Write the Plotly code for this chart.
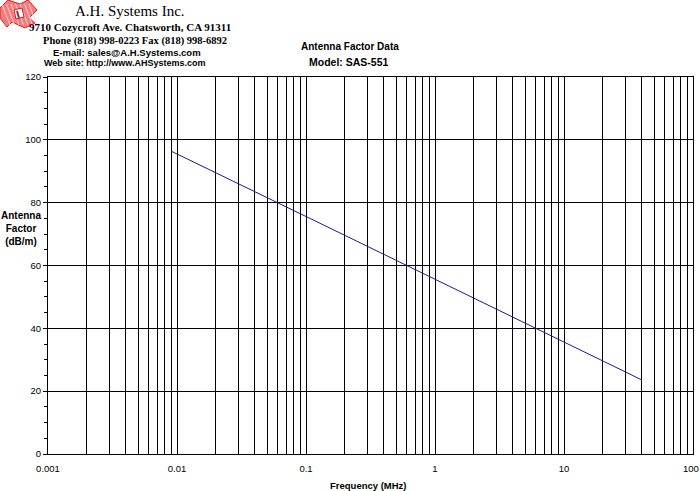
import plotly.graph_objects as go

freq_mhz = [0.009, 0.01, 0.02, 0.03, 0.05, 0.07, 0.1, 0.2, 0.3, 0.5, 0.7,
            1, 2, 3, 5, 7, 10, 20, 30, 40]
antenna_factor = [96.4, 95.5, 89.5, 86.0, 81.6, 78.6, 75.6, 69.6, 66.1, 61.6, 58.7,
                  55.6, 49.6, 46.0, 41.6, 38.7, 35.6, 29.8, 26.2, 23.6]

x_ticks = [0.001, 0.01, 0.1, 1, 10, 100]
x_tick_labels = ["0.001", "0.01", "0.1", "1", "10", "100"]
y_ticks = [0, 20, 40, 60, 80, 100, 120]

fig = go.Figure()
fig.add_trace(go.Scatter(x=freq_mhz, y=antenna_factor, mode="lines",
                         line=dict(color="#1c1c8c", width=1), hoverinfo="x+y",
                         showlegend=False))

fig.update_layout(
    width=700, height=491,
    margin=dict(l=48, r=7, t=77, b=37),
    paper_bgcolor="white", plot_bgcolor="white",
    font=dict(family="Liberation Sans, Arial, sans-serif", size=11, color="black"),
    xaxis=dict(type="log", range=[-3, 2.00001], tickvals=x_ticks[:-1],
               ticktext=x_tick_labels[:-1],
               showgrid=True, gridcolor="black", gridwidth=1,
               minor=dict(dtick="D1", showgrid=True, gridcolor="black", gridwidth=1,
                          ticks=""),
               showline=True, linecolor="black", linewidth=1, mirror=True,
               ticks="", zeroline=False, tickfont=dict(size=9.5),
               ticklabelstandoff=6, automargin=False),
    yaxis=dict(range=[0, 120], tickvals=y_ticks, showgrid=True, gridcolor="black",
               gridwidth=1, showline=True, linecolor="black", linewidth=1, mirror=True,
               ticks="outside", ticklen=4, tickcolor="black",
               minor=dict(dtick=5, ticks="outside", ticklen=3, tickcolor="black",
                          showgrid=False),
               zeroline=False, tickfont=dict(size=9.5), automargin=False),
)

sans = "Liberation Sans, Arial, sans-serif"
serif = "Liberation Serif, Times New Roman, serif"


def px(x):
    return (x - 48) / (693 - 48)


def py(y):
    return (454 - y) / (454 - 77)


def ptxt(t, x, y, size, family, xanchor="center"):
    fig.add_annotation(text=t, x=px(x), y=py(y), xref="paper", yref="paper",
                       showarrow=False, xanchor=xanchor, yanchor="middle",
                       font=dict(size=size, family=family, color="black"))


# last x tick label, nudged to stay inside the page like the reference
ptxt(x_tick_labels[-1], 691, 468, 9.5, sans)

ptxt("<b>Antenna Factor Data</b>", 350, 47, 10, sans)
ptxt("<b>Model: SAS-551</b>", 349, 62, 10.5, sans)
ptxt("<b>Antenna<br>Factor<br>(dB/m)</b>", 21, 228, 10, sans)
ptxt("<b>Frequency (MHz)</b>", 368, 485, 9.5, sans)

ptxt("A.H. Systems Inc.", 130, 11, 15, serif)
ptxt("<b>9710 Cozycroft Ave. Chatsworth, CA 91311</b>", 130, 27, 11, serif)
ptxt("<b>Phone (818) 998-0223 Fax (818) 998-6892</b>", 135, 41, 10.5, serif)
ptxt("<b>E-mail: sales@A.H.Systems.com</b>", 127, 52, 9.5, sans)
ptxt("<b>Web site: http://www.AHSystems.com</b>", 125, 63, 9, sans)

# Logo (red hatched emblem)
outer = [(0, 8), (8, 0), (20, 4), (28, 0), (37, 10), (29, 18), (35, 23), (25, 28),
         (12, 22), (7, 27), (0, 18)]
path = "M " + " L ".join(f"{px(a)},{py(b)}" for a, b in outer) + " Z"
fig.add_shape(type="path", path=path, xref="paper", yref="paper",
              fillcolor="#f47c7c", line=dict(color="#e02020", width=1))
for i in range(7):
    o = i * 4.5
    fig.add_shape(type="line", x0=px(2 + o), y0=py(4), x1=px(10 + o), y1=py(25),
                  xref="paper", yref="paper",
                  line=dict(color="#ffd0d0", width=1))
inner = [(14, 10), (22, 8), (24, 17), (16, 19)]
path2 = "M " + " L ".join(f"{px(a)},{py(b)}" for a, b in inner) + " Z"
fig.add_shape(type="path", path=path2, xref="paper", yref="paper",
              fillcolor="white", line=dict(color="#c02020", width=1))
fig.add_shape(type="line", x0=px(17), y0=py(11), x1=px(19), y1=py(18),
              xref="paper", yref="paper", line=dict(color="#c02020", width=2))

fig.write_html("out.html")
